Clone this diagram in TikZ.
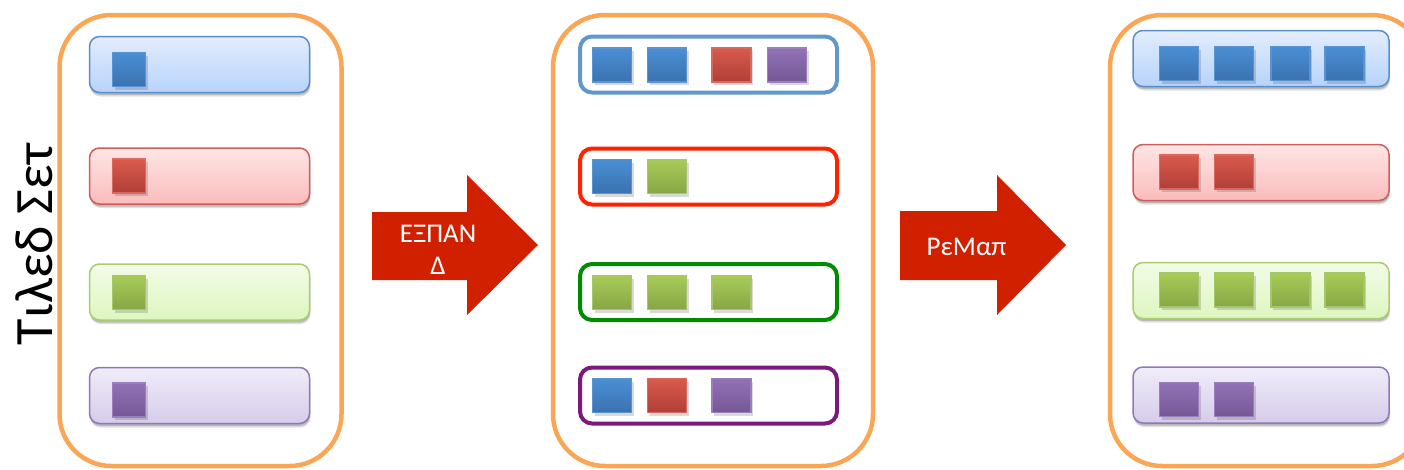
\documentclass[tikz,border=0pt]{standalone}
\usepackage{fontspec}
\setmainfont{Carlito}
\usetikzlibrary{shadows}

% frame and arrow colours
\definecolor{panelorange}{RGB}{250,166,84}
\definecolor{arrowred}{RGB}{208,32,0}
% outline colours of the middle rows
\definecolor{olblue}{RGB}{97,151,201}
\definecolor{olred}{RGB}{255,34,0}
\definecolor{olgreen}{RGB}{0,140,0}
\definecolor{olpurple}{RGB}{123,26,123}
% filled rows
\definecolor{rbBdr}{RGB}{91,142,201}\definecolor{rbTop}{RGB}{227,237,253}\definecolor{rbBot}{RGB}{183,211,251}
\definecolor{rrBdr}{RGB}{204,95,90}\definecolor{rrTop}{RGB}{254,229,229}\definecolor{rrBot}{RGB}{251,188,188}
\definecolor{rgBdr}{RGB}{169,205,110}\definecolor{rgTop}{RGB}{243,251,232}\definecolor{rgBot}{RGB}{221,246,191}
\definecolor{rpBdr}{RGB}{143,120,182}\definecolor{rpTop}{RGB}{240,237,249}\definecolor{rpBot}{RGB}{214,203,234}
% small squares
\definecolor{sbBdr}{RGB}{90,147,207}\definecolor{sbTop}{RGB}{74,143,212}\definecolor{sbBot}{RGB}{59,114,176}
\definecolor{srBdr}{RGB}{217,105,95}\definecolor{srTop}{RGB}{217,90,77}\definecolor{srBot}{RGB}{176,63,55}
\definecolor{sgBdr}{RGB}{165,199,106}\definecolor{sgTop}{RGB}{168,203,88}\definecolor{sgBot}{RGB}{135,166,70}
\definecolor{spBdr}{RGB}{154,127,189}\definecolor{spTop}{RGB}{146,114,182}\definecolor{spBot}{RGB}{117,87,150}

\tikzset{
  panel/.style={draw=panelorange, line width=4.5pt, rounded corners=52pt,
    minimum height=451pt, inner sep=0pt},
  softshadow/.style={
    drop shadow={shadow xshift=1pt, shadow yshift=-4pt, opacity=0.12, fill=black},
    drop shadow={shadow xshift=0.5pt, shadow yshift=-2.5pt, opacity=0.18, fill=black}},
  rowbox/.style={rounded corners=10pt, line width=1.5pt, inner sep=0pt,
    minimum width=220pt, minimum height=56pt, softshadow},
  rowblue/.style={rowbox, draw=rbBdr, top color=rbTop, bottom color=rbBot},
  rowred/.style={rowbox, draw=rrBdr, top color=rrTop, bottom color=rrBot},
  rowgreen/.style={rowbox, draw=rgBdr, top color=rgTop, bottom color=rgBot},
  rowpurple/.style={rowbox, draw=rpBdr, top color=rpTop, bottom color=rpBot},
  ringbox/.style={draw=#1, line width=4pt, rounded corners=12pt, inner sep=0pt,
    minimum width=257pt, minimum height=56pt},
  sq/.style={inner sep=0pt, line width=1.2pt, minimum width=39pt, minimum height=34pt,
    drop shadow={shadow xshift=2pt, shadow yshift=-3pt, opacity=0.15, fill=black}},
  sqblue/.style={sq, draw=sbBdr, top color=sbTop, bottom color=sbBot},
  sqred/.style={sq, draw=srBdr, top color=srTop, bottom color=srBot},
  sqgreen/.style={sq, draw=sgBdr, top color=sgTop, bottom color=sgBot},
  sqpurple/.style={sq, draw=spBdr, top color=spTop, bottom color=spBot},
  narrow/.style={minimum width=33pt},
  bigarrow/.style={fill=arrowred, draw=none},
  arrowtext/.style={text=white, font=\fontsize{27}{32}\selectfont, align=center, inner sep=0pt},
}

\begin{document}
\begin{tikzpicture}[x=1pt, y=-1pt]
\useasboundingbox (0,0) rectangle (1404,469);

% ---- three frames ----
\node[panel, minimum width=282pt] (p1) at (200.5,240.5) {};
\node[panel, minimum width=320pt] (p2) at (713,240.5) {};
\node[panel, minimum width=314pt] (p3) at (1267,240.5) {};

% ---- side label ----
\node[rotate=90, anchor=base, inner sep=0pt, font=\fontsize{54}{60}\selectfont]
  (setlabel) at (52,244.5) {Τιλεδ Σετ};

% ---- left frame: one square per row ----
\node[rowblue]   (l1) at (199.5,64.5) {};
\node[rowred]    (l2) at (199.5,176)  {};
\node[rowgreen]  (l3) at (199.5,292)  {};
\node[rowpurple] (l4) at (199.5,395.5) {};
\node[sqblue, narrow]   (l1a) at (129,69.5) {};
\node[sqred, narrow]    (l2a) at (129,176)  {};
\node[sqgreen, narrow]  (l3a) at (129,292.5) {};
\node[sqpurple, narrow] (l4a) at (129,400)  {};

% ---- expand arrow ----
\fill[bigarrow] (372,212) -- (467,212) -- (467,175) -- (538,245)
  -- (467,315) -- (467,280) -- (372,280) -- cycle;
\node[arrowtext] (expandtxt) at (438,250) {ΕΞΠΑΝ\\Δ};

% ---- middle frame: outlined rows ----
\node[ringbox=olblue]   (m1) at (708.5,64.5)  {};
\node[ringbox=olred]    (m2) at (708.5,176.5) {};
\node[ringbox=olgreen]  (m3) at (708.5,292)   {};
\node[ringbox=olpurple] (m4) at (708.5,395.5) {};

\node[sqblue]   (m1a) at (612,65)   {};
\node[sqblue]   (m1b) at (667,65)   {};
\node[sqred]    (m1c) at (731.5,65) {};
\node[sqpurple] (m1d) at (787,65)   {};

\node[sqblue]   (m2a) at (612,176.5) {};
\node[sqgreen]  (m2b) at (667,176.5) {};

\node[sqgreen]  (m3a) at (612,292.5)   {};
\node[sqgreen]  (m3b) at (667,292.5)   {};
\node[sqgreen]  (m3c) at (731.5,292.5) {};

\node[sqblue]   (m4a) at (612,395.5)   {};
\node[sqred]    (m4b) at (667,395.5)   {};
\node[sqpurple] (m4c) at (731.5,395.5) {};

% ---- remap arrow ----
\fill[bigarrow] (900,211) -- (997,211) -- (997,175) -- (1066,245)
  -- (997,315) -- (997,280) -- (900,280) -- cycle;
\node[arrowtext] (remaptxt) at (966.5,247) {ΡεΜαπ};

% ---- right frame: regrouped rows ----
\node[rowblue, minimum width=256pt]   (r1) at (1261,58.5)  {};
\node[rowred, minimum width=256pt]    (r2) at (1261,172.5) {};
\node[rowgreen, minimum width=256pt]  (r3) at (1261,290.5) {};
\node[rowpurple, minimum width=256pt] (r4) at (1261,395)   {};

\foreach \x [count=\i] in {1179,1234,1290.5,1344.5}
  \node[sqblue] (r1s\i) at (\x,63.5) {};
\foreach \x [count=\i] in {1179,1234}
  \node[sqred] (r2s\i) at (\x,172) {};
\foreach \x [count=\i] in {1179,1234,1290.5,1344.5}
  \node[sqgreen] (r3s\i) at (\x,290) {};
\foreach \x [count=\i] in {1179,1234}
  \node[sqpurple] (r4s\i) at (\x,399.5) {};

\end{tikzpicture}
\end{document}
